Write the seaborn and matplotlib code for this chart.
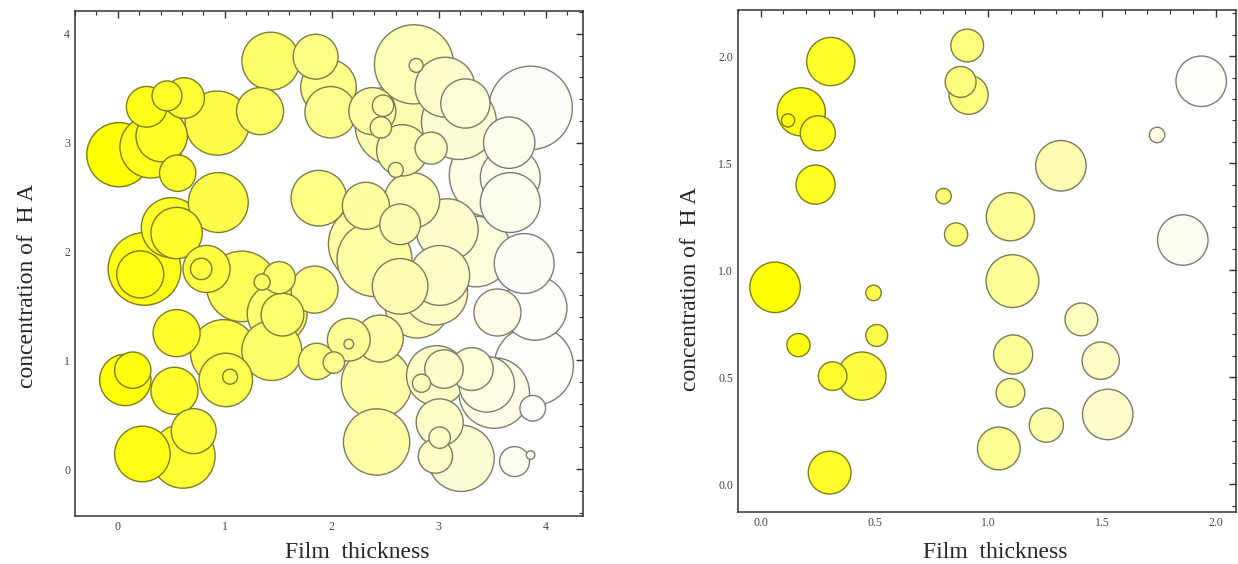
import numpy as np
import pandas as pd
import seaborn as sns
import matplotlib.pyplot as plt
from matplotlib.colors import LinearSegmentedColormap, PowerNorm
from matplotlib.ticker import MultipleLocator

W, H, DPI = 1238, 564, 100

# left chart: bubble centres and radii (radius in x-axis units)
left_x = [0.01, 0.31, 0.41, 0.27, 0.46, 0.62, 0.93, 1.33, 0.56, 0.94,
          0.50, 0.55, 0.25, 0.21, 0.83, 0.78, 1.16, 1.51, 1.35, 1.84,
          1.49, 1.54, 0.55, 0.99, 1.44, 0.07, 0.14, 0.53, 1.01, 1.05,
          0.71, 0.23, 0.61, 1.43, 1.85, 1.97, 1.99, 1.88, 1.86, 2.02,
          2.16, 2.16, 2.45, 2.42, 2.42, 2.38, 2.60, 2.48, 2.46, 2.60,
          2.66, 2.93, 2.32, 2.64, 3.08, 2.40, 2.64, 2.34, 3.01, 2.75,
          3.35, 2.77, 2.79, 3.06, 3.86, 3.25, 3.19, 3.66, 3.49, 3.67,
          3.67, 3.80, 3.90, 3.55, 3.89, 3.88, 3.52, 3.45, 3.31, 3.05,
          2.98, 2.84, 3.01, 3.01, 2.97, 3.21, 3.71, 3.86, 2.97, 2.80]
left_y = [2.89, 2.96, 3.06, 3.33, 3.43, 3.41, 3.18, 3.29, 2.72, 2.45,
          2.22, 2.17, 1.84, 1.79, 1.84, 1.84, 1.68, 1.76, 1.72, 1.65,
          1.43, 1.42, 1.25, 1.07, 1.09, 0.82, 0.91, 0.72, 0.82, 0.85,
          0.35, 0.14, 0.12, 3.75, 3.79, 3.51, 3.28, 2.49, 0.99, 0.98,
          1.19, 1.15, 1.20, 0.79, 0.25, 3.29, 3.16, 3.34, 3.14, 2.75,
          2.93, 2.95, 2.42, 2.25, 2.20, 1.93, 1.68, 2.07, 1.78, 2.47,
          2.00, 3.72, 3.71, 3.51, 3.32, 3.36, 3.19, 3.00, 2.70, 2.68,
          2.45, 1.89, 1.48, 1.44, 0.95, 0.56, 0.70, 0.78, 0.92, 0.92,
          0.86, 0.79, 0.43, 0.29, 0.12, 0.10, 0.07, 0.13, 1.62, 1.50]
left_r = [0.30, 0.29, 0.24, 0.19, 0.14, 0.19, 0.30, 0.22, 0.17, 0.28,
          0.28, 0.24, 0.34, 0.22, 0.22, 0.10, 0.33, 0.15, 0.075, 0.22,
          0.28, 0.20, 0.22, 0.31, 0.28, 0.24, 0.17, 0.22, 0.25, 0.07,
          0.21, 0.26, 0.30, 0.27, 0.21, 0.26, 0.24, 0.26, 0.17, 0.10,
          0.20, 0.045, 0.22, 0.33, 0.31, 0.22, 0.38, 0.10, 0.10, 0.07,
          0.24, 0.15, 0.22, 0.19, 0.29, 0.35, 0.26, 0.37, 0.28, 0.26,
          0.33, 0.37, 0.065, 0.28, 0.39, 0.23, 0.35, 0.24, 0.39, 0.28,
          0.28, 0.28, 0.30, 0.22, 0.37, 0.12, 0.33, 0.26, 0.20, 0.18,
          0.28, 0.085, 0.22, 0.10, 0.16, 0.31, 0.14, 0.04, 0.30, 0.30]

# right chart
right_x = [0.308, 0.178, 0.120, 0.251, 0.241, 0.063, 0.166, 0.316, 0.445, 0.496,
           0.510, 0.303, 0.908, 0.914, 0.879, 0.804, 0.859, 1.098, 1.107, 1.110,
           1.098, 1.047, 1.256, 1.320, 1.410, 1.495, 1.526, 1.743, 1.937, 1.856]
right_y = [1.975, 1.740, 1.700, 1.640, 1.400, 0.920, 0.650, 0.505, 0.505, 0.894,
           0.695, 0.054, 2.050, 1.820, 1.880, 1.346, 1.167, 1.250, 0.949, 0.606,
           0.427, 0.167, 0.276, 1.488, 0.770, 0.577, 0.326, 1.632, 1.883, 1.141]
right_r = [0.106, 0.106, 0.029, 0.077, 0.086, 0.111, 0.051, 0.063, 0.106, 0.034,
           0.048, 0.094, 0.072, 0.086, 0.068, 0.034, 0.051, 0.106, 0.116, 0.086,
           0.063, 0.094, 0.075, 0.111, 0.072, 0.082, 0.111, 0.034, 0.111, 0.111]

cmap = LinearSegmentedColormap.from_list("yellow_white", ["#ffff00", "#fdfdfa"])
SERIF = ["Liberation Serif", "DejaVu Serif"]


def bubble_panel(fig, rect, x, y, r, xlim, ylim, major, minor, xlab_pos, ylab_pos):
    ax = fig.add_axes(rect)
    ax.set_xlim(xlim)
    ax.set_ylim(ylim)
    df = pd.DataFrame({"x": x, "y": y, "r": r})
    df = df.sort_values("r", ascending=False).reset_index(drop=True)

    # bubble radius -> marker area in points^2
    px_per_unit = rect[2] * W / (xlim[1] - xlim[0])
    r_pt = df["r"] * px_per_unit * 72 / DPI
    sizes = (2 * r_pt) ** 2

    norm = PowerNorm(0.85, vmin=df["x"].min(), vmax=df["x"].max())
    faces = cmap(norm(df["x"].values))
    edges = faces[:, :3] * 0.42 + 0.07

    sns.scatterplot(data=df, x="x", y="y", hue="x", palette=cmap,
                    hue_norm=norm, s=sizes.values, edgecolor=edges,
                    linewidth=1.0, legend=False, ax=ax, zorder=2)

    ax.xaxis.set_major_locator(MultipleLocator(major))
    ax.yaxis.set_major_locator(MultipleLocator(major))
    ax.xaxis.set_minor_locator(MultipleLocator(minor))
    ax.yaxis.set_minor_locator(MultipleLocator(minor))
    ax.tick_params(which="both", direction="in", top=True, right=True,
                   color="#333333", labelsize=8.5, labelcolor="#444444")
    ax.tick_params(which="major", length=5, width=1)
    ax.tick_params(which="minor", length=3, width=0.8)
    for lab in ax.get_xticklabels() + ax.get_yticklabels():
        lab.set_family(SERIF)
    for sp in ax.spines.values():
        sp.set_color("#333333")
        sp.set_linewidth(1.1)
    ax.set_xlabel("Film  thickness", family=SERIF, fontsize=17, va="center")
    ax.set_ylabel("concentration of  H A", family=SERIF, fontsize=17, va="center")
    ax.xaxis.set_label_coords(*xlab_pos)
    ax.yaxis.set_label_coords(*ylab_pos)
    return ax


sns.set_style("white")
fig = plt.figure(figsize=(W / DPI, H / DPI), dpi=DPI)

bubble_panel(fig, [75 / W, 1 - 516 / H, 508 / W, 505 / H],
             left_x, left_y, left_r, (-0.40, 4.35), (-0.43, 4.21), 1, 0.2,
             (0.556, -0.072), (-0.093, 0.455))
bubble_panel(fig, [738 / W, 1 - 512 / H, 498 / W, 502 / H],
             right_x, right_y, right_r, (-0.10, 2.09), (-0.13, 2.216), 0.5, 0.1,
             (0.516, -0.08), (-0.096, 0.445))

fig.savefig("out.png", dpi=DPI)
